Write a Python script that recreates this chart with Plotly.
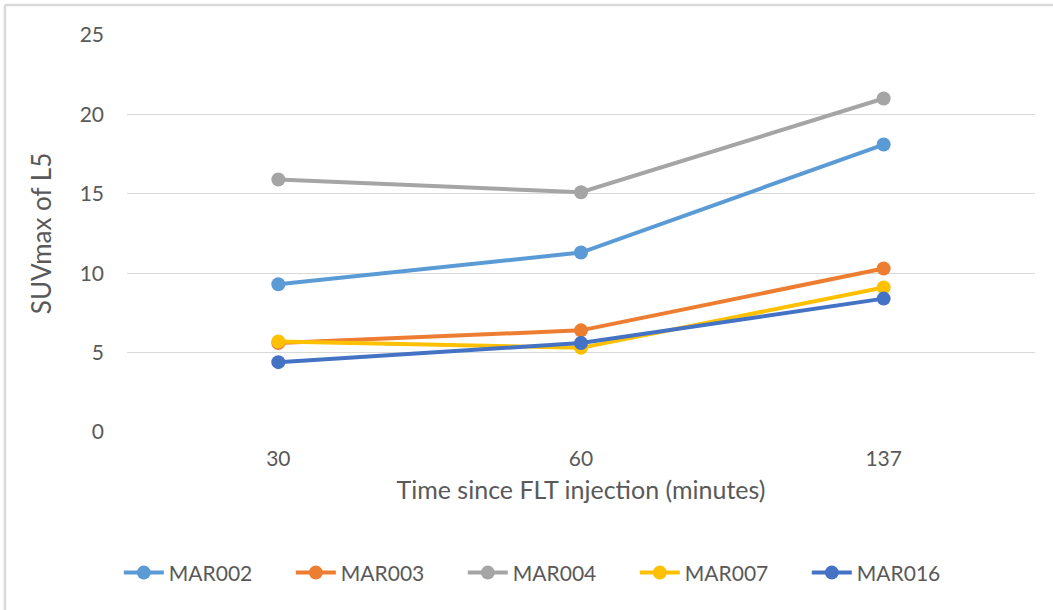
import plotly.graph_objects as go

# Scan times (minutes after FLT injection), shown as categories
times = ["30", "60", "137"]

# SUVmax of L5 per patient
mar002 = [9.3, 11.3, 18.1]
mar003 = [5.6, 6.4, 10.3]
mar004 = [15.9, 15.1, 21.0]
mar007 = [5.7, 5.3, 9.1]
mar016 = [4.4, 5.6, 8.4]

series = [
    ("MAR002", mar002, "#5B9BD5"),
    ("MAR003", mar003, "#ED7D31"),
    ("MAR004", mar004, "#A5A5A5"),
    ("MAR007", mar007, "#FFC000"),
    ("MAR016", mar016, "#4472C4"),
]

font_family = "Lato, 'Open Sans', sans-serif"
text_color = "#595959"

fig = go.Figure()
for name, vals, color in series:
    fig.add_trace(go.Scatter(
        x=times, y=vals, name=name, mode="lines+markers",
        line=dict(color=color, width=4),
        marker=dict(color=color, size=14),
    ))

fig.update_layout(
    width=1053, height=610,
    margin=dict(l=127, r=18, t=35, b=178),
    paper_bgcolor="white", plot_bgcolor="white",
    font=dict(family=font_family, color=text_color, size=21),
    showlegend=True,
    legend=dict(
        orientation="h", x=-0.009, xanchor="left", y=-0.355, yanchor="middle",
        font=dict(size=21, color=text_color), itemwidth=40,
        entrywidth=117, entrywidthmode="pixels",
        traceorder="normal",
    ),
    xaxis=dict(
        type="category", range=[-0.5, 2.5],
        showgrid=False, zeroline=False, showline=False,
        ticks="", ticklabelstandoff=12,
        title=dict(text="Time since FLT injection (minutes)", standoff=12,
                   font=dict(size=25, color=text_color)),
        tickfont=dict(size=21, color=text_color),
    ),
    yaxis=dict(
        range=[0, 25], dtick=5, tick0=0,
        showgrid=True, gridcolor="#D9D9D9", gridwidth=1.3,
        zeroline=False, showline=False, ticks="",
        ticklabelstandoff=22,
        title=dict(text="SUVmax of L5", standoff=20,
                   font=dict(size=26, color=text_color)),
        tickfont=dict(size=21, color=text_color),
    ),
    shapes=[
        # chart frame: top and left edges
        dict(type="line", xref="paper", yref="paper",
             x0=-0.1344, x1=1.03, y0=1.0756, y1=1.0756,
             line=dict(color="#D9D9D9", width=2.5)),
        dict(type="line", xref="paper", yref="paper",
             x0=-0.1344, x1=-0.1344, y0=1.0756, y1=-0.45,
             line=dict(color="#D9D9D9", width=2.5)),
    ],
)

fig.write_html("out.html")
